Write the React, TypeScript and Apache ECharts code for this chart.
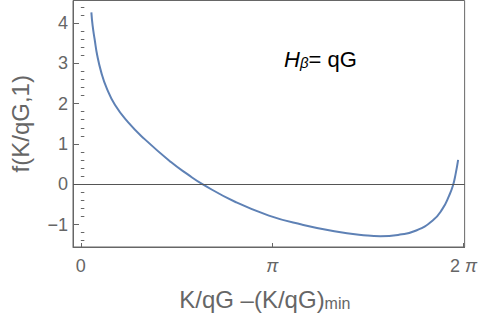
import React, { useEffect, useRef } from "react";
import * as echarts from "echarts";

// x in units of π : K/qG − (K/qG)min
const xPi = [0.055, 0.0616, 0.0719, 0.0858, 0.1064, 0.1335, 0.178, 0.2465, 0.332, 0.471, 0.557, 0.642, 0.811, 0.983, 1.154, 1.325, 1.497, 1.565, 1.668, 1.753, 1.839, 1.89, 1.925, 1.945, 1.959, 1.972];
const fVal = [4.26, 3.93, 3.6, 3.19, 2.78, 2.4, 1.97, 1.54, 1.125, 0.55, 0.25, -0.015, -0.446, -0.776, -0.999, -1.165, -1.271, -1.289, -1.247, -1.147, -0.9, -0.61, -0.28, -0.032, 0.258, 0.605];

const xTickValues = [0, 1, 2];
const xTickLabels = ["0", "{i|π}", "2 {i|π}"];
const yTickValues = [-1, 0, 1, 2, 3, 4];
const yMinorTicks = [-1.4, -1.2, -0.8, -0.6, -0.4, -0.2, 0.2, 0.4, 0.6, 0.8, 1.2, 1.4, 1.6, 1.8, 2.2, 2.4, 2.6, 2.8, 3.2, 3.4, 3.6, 3.8, 4.2, 4.4];

const FONT = "Liberation Sans";
const GRAY = "#666666";

export default function App() {
  const ref = useRef<HTMLDivElement>(null);
  useEffect(() => {
    document.body.style.margin = "0";
    const chart = echarts.init(ref.current!, null, { renderer: "svg" });
    chart.setOption({
      animation: false,
      textStyle: { fontFamily: FONT },
      grid: { left: 67, right: 14, top: 0.5, bottom: 70, show: true, borderColor: GRAY, borderWidth: 1, backgroundColor: "transparent" },
      xAxis: {
        type: "value",
        min: -0.041,
        max: 2.006,
        axisLine: { show: true, onZero: false, lineStyle: { color: GRAY } },
        axisTick: { show: true, inside: true, length: 4, customValues: xTickValues, lineStyle: { color: GRAY } },
        axisLabel: {
          customValues: xTickValues,
          color: GRAY,
          fontSize: 18,
          fontFamily: FONT,
          margin: 10,
          formatter: (v: number) => {
            const i = xTickValues.findIndex((t) => Math.abs(t - v) < 1e-6);
            return i >= 0 ? xTickLabels[i] : "";
          },
          rich: { i: { fontStyle: "italic", fontSize: 18, color: GRAY, fontFamily: FONT } },
        },
        splitLine: { show: false },
        name: "{a|K/qG –(K/qG)}{s|min}",
        nameLocation: "middle",
        nameGap: 36,
        nameTextStyle: {
          color: GRAY,
          padding: [0, 8, 0, 0],
          rich: {
            a: { fontSize: 24, color: GRAY, fontFamily: FONT, verticalAlign: "bottom", lineHeight: 28 },
            s: { fontSize: 16, color: GRAY, fontFamily: FONT, verticalAlign: "bottom", lineHeight: 22 },
          },
        },
      },
      yAxis: [
        {
          type: "value",
          min: -1.555,
          max: 4.555,
          axisLine: { show: true, onZero: false, lineStyle: { color: GRAY } },
          axisTick: { show: true, inside: true, length: 6, customValues: yTickValues, lineStyle: { color: GRAY } },
          axisLabel: {
            customValues: yTickValues,
            color: GRAY,
            fontSize: 18,
            fontFamily: FONT,
            margin: 5,
            formatter: (v: number) => (v < 0 ? "−" + Math.abs(v) : String(v)),
          },
          splitLine: { show: false },
          name: "f(K/qG,1)",
          nameLocation: "middle",
          nameGap: 41,
          nameTextStyle: { color: GRAY, fontSize: 24, fontFamily: FONT },
        },
        {
          type: "value",
          min: -1.555,
          max: 4.555,
          position: "left",
          axisLine: { show: false },
          axisTick: { show: true, inside: true, length: 3.5, customValues: yMinorTicks, lineStyle: { color: GRAY } },
          axisLabel: { show: false },
          splitLine: { show: false },
        },
      ],
      graphic: [
        {
          type: "text",
          left: 284,
          top: 48,
          style: {
            text: "{h|H}{b|β}{n|= qG}",
            rich: {
              h: { fontSize: 22, fontStyle: "italic", fill: "#000", fontFamily: FONT, verticalAlign: "bottom", lineHeight: 26 },
              b: { fontSize: 15, fontStyle: "italic", fill: "#000", fontFamily: FONT, verticalAlign: "bottom", lineHeight: 17 },
              n: { fontSize: 22, fill: "#000", fontFamily: FONT, verticalAlign: "bottom", lineHeight: 26 },
            },
          },
        },
      ],
      series: [
        {
          type: "line",
          data: xPi.map((x, i) => [x, fVal[i]]),
          showSymbol: false,
          smooth: 0.5,
          lineStyle: { color: "#5E81B5", width: 2 },
          markLine: {
            silent: true,
            symbol: "none",
            label: { show: false },
            lineStyle: { color: "#555555", width: 1, type: "solid" },
            data: [{ yAxis: 0 }],
          },
        },
      ],
    });
    return () => chart.dispose();
  }, []);
  return <div ref={ref} style={{ position: "absolute", left: 0, top: 0, width: 480, height: 317 }} />;
}
